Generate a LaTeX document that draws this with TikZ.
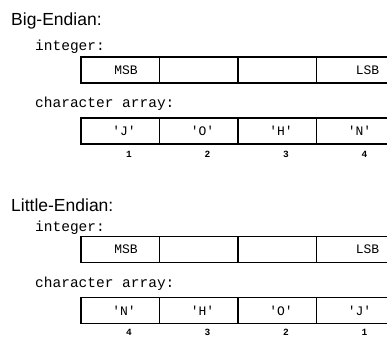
\documentclass[tikz,border=0pt]{standalone}
\usepackage{fontspec}
\setsansfont{Liberation Sans}
\setmonofont{Liberation Mono}
\usetikzlibrary{calc}
\tikzset{
  cell/.style={draw, line width=1.5pt, minimum width=78.5pt, minimum height=26pt, inner sep=0pt, anchor=west, font=\ttfamily\fontsize{13}{13}\selectfont},
  title/.style={anchor=base west, inner sep=0pt, font=\sffamily\fontsize{17.5}{19}\selectfont},
  lbl/.style={anchor=base west, inner sep=0pt, font=\ttfamily\fontsize{14.5}{15}\selectfont},
  num/.style={inner sep=0pt, font=\ttfamily\bfseries\fontsize{9.5}{10}\selectfont}
}
\begin{document}
\begin{tikzpicture}[x=1pt,y=-1pt]
\useasboundingbox (0,0) rectangle (387,338);
\clip (0,0) rectangle (387,338);
% Big-Endian
\node[title] (bt) at (11,25) {Big-Endian:};
\node[lbl] (bint) at (35,50) {integer:};
\node[cell] (bi1) at (80,70) {\hspace*{12pt}MSB};
\node[cell] (bi2) at (158.5,70) {};
\node[cell] (bi3) at (237,70) {};
\node[cell] (bi4) at (315.5,70) {\hspace*{24pt}LSB};
\node[lbl] (bchr) at (35,107) {character array:};
\node[cell] (bc1) at (80,131) {\hspace*{8pt}'J'};
\node[cell] (bc2) at (158.5,131) {\hspace*{8pt}'O'};
\node[cell] (bc3) at (237,131) {\hspace*{8pt}'H'};
\node[cell] (bc4) at (315.5,131) {\hspace*{8pt}'N'};
\node[num] (bn1) at ($(bc1.south)+(9,9.5)$) {1};
\node[num] (bn2) at ($(bc2.south)+(9,9.5)$) {2};
\node[num] (bn3) at ($(bc3.south)+(9,9.5)$) {3};
\node[num] (bn4) at ($(bc4.south)+(9,9.5)$) {4};
% Little-Endian
\node[title] (lt) at (11,211) {Little-Endian:};
\node[lbl] (lint) at (35,231) {integer:};
\node[cell] (li1) at (80,249.5) {\hspace*{12pt}MSB};
\node[cell] (li2) at (158.5,249.5) {};
\node[cell] (li3) at (237,249.5) {};
\node[cell] (li4) at (315.5,249.5) {\hspace*{24pt}LSB};
\node[lbl] (lchr) at (35,287) {character array:};
\node[cell] (lc1) at (80,310.5) {\hspace*{8pt}'N'};
\node[cell] (lc2) at (158.5,310.5) {\hspace*{8pt}'H'};
\node[cell] (lc3) at (237,310.5) {\hspace*{8pt}'O'};
\node[cell] (lc4) at (315.5,310.5) {\hspace*{8pt}'J'};
\node[num] (ln1) at ($(lc1.south)+(9,8)$) {4};
\node[num] (ln2) at ($(lc2.south)+(9,8)$) {3};
\node[num] (ln3) at ($(lc3.south)+(9,8)$) {2};
\node[num] (ln4) at ($(lc4.south)+(9,8)$) {1};
\end{tikzpicture}
\end{document}
